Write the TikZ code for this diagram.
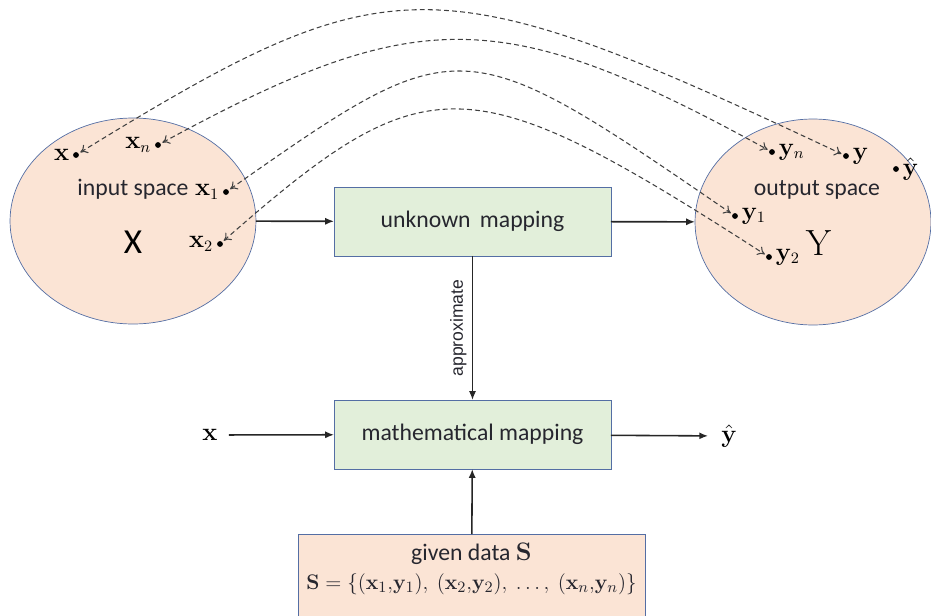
\documentclass[tikz,border=0pt]{standalone}
\usepackage{amsmath}
\usepackage[no-math]{fontspec}
\setmainfont{Carlito}
\newfontfamily\arialfont{Liberation Sans}
\usepackage{xcolor}
\usepackage{tikz}
\usetikzlibrary{positioning,shapes.geometric,arrows.meta}

\definecolor{peach}{RGB}{251,228,213}
\definecolor{mint}{RGB}{226,239,218}
\definecolor{rim}{RGB}{84,110,164}
\definecolor{ink}{RGB}{38,38,46}

\tikzset{
  space/.style={ellipse, draw=rim, fill=peach, outer sep=0pt, minimum height=4.12cm},
  mapbox/.style={draw=rim, fill=mint, outer sep=0pt, minimum width=5.54cm, minimum height=1.38cm, text=ink, font=\fontsize{13.5}{16}\selectfont},
  dot/.style={circle, fill=black, inner sep=0pt, minimum size=3.3pt},
  lab/.style={font=\fontsize{13.5}{16}\selectfont},
  flow/.style={-{Latex[length=5pt,width=4pt]}, line width=0.9pt, draw=black!85},
  pair/.style={{To[length=4pt,width=5.5pt]}-{To[length=4pt,width=5.5pt]}, dash pattern=on 2.8pt off 1.8pt, line width=0.6pt, draw=black!75, shorten <=1pt, shorten >=1pt}
}

\begin{document}
\begin{tikzpicture}[x=0.02cm,y=-0.02cm, label distance=-1.5pt, every label/.style={font=\fontsize{13.5}{16}\selectfont}]
\useasboundingbox (0,0) rectangle (931,616);

\node[space, minimum width=4.92cm] (inspace) at (133,221) {};
\node[space, minimum width=4.72cm] (outspace) at (813,222) {};

\node[text=ink, font=\fontsize{13.5}{16}\selectfont] (intxt) at (133,189) {input space};
\node[font=\fontsize{20}{24}\selectfont] (bigx) at (133,242) {X};
\node[text=ink, font=\fontsize{13.5}{16}\selectfont] (outtxt) at (817,190) {output space};
\node[font=\fontsize{20}{24}\selectfont] (bigy) at (819,243) {$\mathrm{Y}$};

% points in the input space
\node[dot, label=left:{$\mathbf{x}$}] (x) at (76,155) {};
\node[dot, label=left:{$\mathbf{x}_n$}] (xn) at (158,145) {};
\node[dot, label=left:{$\mathbf{x}_1$}] (x1) at (226,192) {};
\node[dot, label=left:{$\mathbf{x}_2$}] (x2) at (220,244) {};

% points in the output space
\node[dot, label=right:{$\mathbf{y}_n$}] (yn) at (772,152) {};
\node[dot, label=right:{$\mathbf{y}$}] (y) at (846,156) {};
\node[dot, label=right:{$\hat{\mathbf{y}}$}] (yhat) at (896,169) {};
\node[dot, label=right:{$\mathbf{y}_1$}] (y1) at (735,216) {};
\node[dot, label=right:{$\mathbf{y}_2$}] (y2) at (769,257) {};

\draw[pair] (x) .. controls (390,-38) and (434,-38) .. (y);
\draw[pair] (xn) .. controls (417,4) and (502,4) .. (yn);
\draw[pair] (x1) .. controls (460,28) and (461,28) .. (y1);
\draw[pair] (x2) .. controls (426,63) and (468,63) .. (y2);

\node[mapbox] (unknown) at (472.5,221.5) {unknown\, mapping};
\node[mapbox] (math) at (472.5,434.5) {mathematical mapping};
\node[draw=rim, fill=peach, anchor=north, minimum width=6.94cm, align=center, inner ysep=5pt, text depth=20pt, text=ink, font=\fontsize{12.5}{16.5}\selectfont] (data) at (471.5,534)
  {\fontsize{13.5}{16.5}\selectfont given data $\mathbf{S}$\\ $\mathbf{S} = \{(\mathbf{x}_1{,}\mathbf{y}_1),\ (\mathbf{x}_2{,}\mathbf{y}_2),\ \ldots,\ (\mathbf{x}_n{,}\mathbf{y}_n)\}$};

\node[lab] (xin) at (210,435) {$\mathbf{x}$};
\node[lab] (yout) at (729,436) {$\hat{\mathbf{y}}$};

\draw[flow] (inspace) -- (unknown);
\draw[flow] (unknown) -- (outspace);
\draw[flow] (unknown) -- node[midway, rotate=90, anchor=south, inner sep=3pt, text=ink, font=\arialfont\fontsize{10}{12}\selectfont] {approximate} (math);
\draw[flow, shorten <=3pt] (xin) -- (math);
\draw[flow, shorten >=4pt] (math) -- (yout);
\draw[flow] (data) -- (math);

\end{tikzpicture}
\end{document}
